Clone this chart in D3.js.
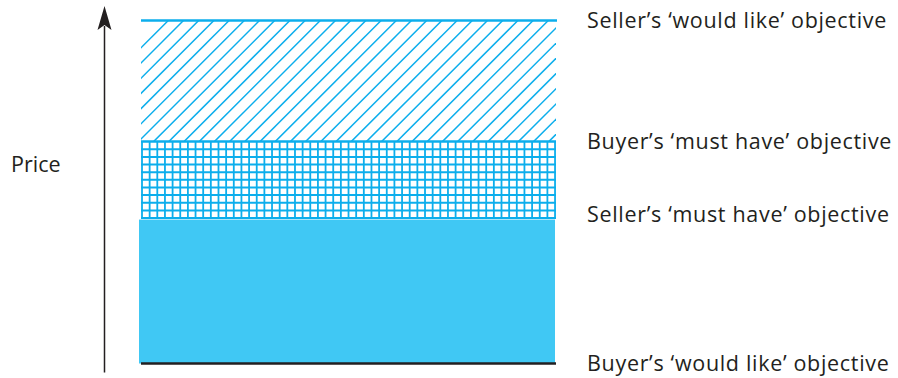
<!DOCTYPE html>
<html>
<head>
<meta charset="utf-8">
<script src="https://cdn.jsdelivr.net/npm/d3@7"></script>
<style>
  body { margin: 0; background: #fff; }
  text { font-family: 'Open Sans', sans-serif; fill: #231f20; }
</style>
</head>
<body>
<div id="chart"></div>
<script>
// price levels (top to bottom) and the objective at each level
const objectives = [
  'Seller\u2019s \u2018would like\u2019 objective',
  'Buyer\u2019s \u2018must have\u2019 objective',
  'Seller\u2019s \u2018must have\u2019 objective',
  'Buyer\u2019s \u2018would like\u2019 objective'
]
const priceLevels = [100, 64.7, 42.4, 0]
// fill kind for the zone between each level and the next one
const zoneKinds = ['hatch', 'grid', 'solid']
const labelNudge = [0, 0, -4, 0]
const axisLabel = 'Price'

const width = 898, height = 378
const boxLeft = 141, boxRight = 556
const axisX = 104.5
const blue = '#0caeec', fillBlue = '#40c8f4', ink = '#231f20'

const svg = d3.select('#chart')
  .append('svg')
  .attr('width', width)
  .attr('height', height)

let y = d3.scaleLinear().domain([0, 100]).range([363.5, 20.5])

let zones = zoneKinds.map(function(k, i) {
  return {kind: k, top: y(priceLevels[i]), bottom: y(priceLevels[i + 1])}
})

let defs = svg.append('defs')

zones.forEach(function(z, i) {
  defs.append('clipPath')
    .attr('id', 'clip' + i)
    .append('rect')
    .attr('x', boxLeft)
    .attr('y', z.top)
    .attr('width', boxRight - boxLeft)
    .attr('height', z.bottom - z.top)
})

let g = svg.append('g')

zones.forEach(function(z, i) {
  let zg = g.append('g').attr('clip-path', 'url(#clip' + i + ')')
  if (z.kind === 'hatch') {
    let h = z.bottom - z.top
    zg.selectAll('line')
      .data(d3.range(boxLeft + 27.3, boxRight + h, 15.2))
      .enter()
      .append('line')
      .attr('x1', function(c) { return c })
      .attr('y1', z.top)
      .attr('x2', function(c) { return c - h })
      .attr('y2', z.bottom)
      .attr('stroke', blue)
      .attr('stroke-width', 1.5)
  } else if (z.kind === 'grid') {
    let rows = 10
    let step = (z.bottom - z.top) / rows
    zg.selectAll('line.h')
      .data(d3.range(1, rows))
      .enter()
      .append('line')
      .attr('class', 'h')
      .attr('x1', boxLeft)
      .attr('x2', boxRight)
      .attr('y1', function(r) { return z.top + r * step })
      .attr('y2', function(r) { return z.top + r * step })
      .attr('stroke', blue)
      .attr('stroke-width', 2)
    zg.selectAll('line.v')
      .data(d3.range(boxLeft + 1, boxRight, step))
      .enter()
      .append('line')
      .attr('class', 'v')
      .attr('x1', function(c) { return c })
      .attr('x2', function(c) { return c })
      .attr('y1', z.top)
      .attr('y2', z.bottom)
      .attr('stroke', blue)
      .attr('stroke-width', 1.8)
  } else {
    g.append('rect')
      .attr('x', boxLeft - 2)
      .attr('y', z.top + 1.5)
      .attr('width', boxRight - boxLeft + 1)
      .attr('height', z.bottom - z.top - 1.5)
      .attr('fill', fillBlue)
  }
})

// level lines
g.selectAll('line.level')
  .data(priceLevels)
  .enter()
  .append('line')
  .attr('class', 'level')
  .attr('x1', boxLeft)
  .attr('x2', function(d, i) { return i === 0 ? boxRight + 1 : boxRight })
  .attr('y1', function(d) { return y(d) })
  .attr('y2', function(d) { return y(d) })
  .attr('stroke', function(d, i) { return i === priceLevels.length - 1 ? ink : blue })
  .attr('stroke-width', function(d, i) { return i === 2 ? 2 : 2.5 })

// labels
svg.selectAll('text.obj')
  .data(objectives)
  .enter()
  .append('text')
  .attr('class', 'obj')
  .attr('x', 587)
  .attr('y', function(d, i) { return y(priceLevels[i]) + labelNudge[i] })
  .attr('dy', '0.36em')
  .attr('font-size', 21.5)
  .attr('letter-spacing', 0.68)
  .text(function(d) { return d })

// price axis with arrow head
let axisTop = 6
svg.append('line')
  .attr('x1', axisX)
  .attr('x2', axisX)
  .attr('y1', 372.5)
  .attr('y2', axisTop + 20)
  .attr('stroke', ink)
  .attr('stroke-width', 1.5)

svg.append('path')
  .attr('d', d3.line()([
    [axisX, axisTop], [axisX + 7, axisTop + 24], [axisX, axisTop + 19],
    [axisX - 7, axisTop + 24]
  ]) + 'Z')
  .attr('fill', ink)

svg.append('text')
  .attr('x', 11)
  .attr('y', 164.5)
  .attr('dy', '0.36em')
  .attr('font-size', 21.5)
  .text(axisLabel)
</script>
</body>
</html>
